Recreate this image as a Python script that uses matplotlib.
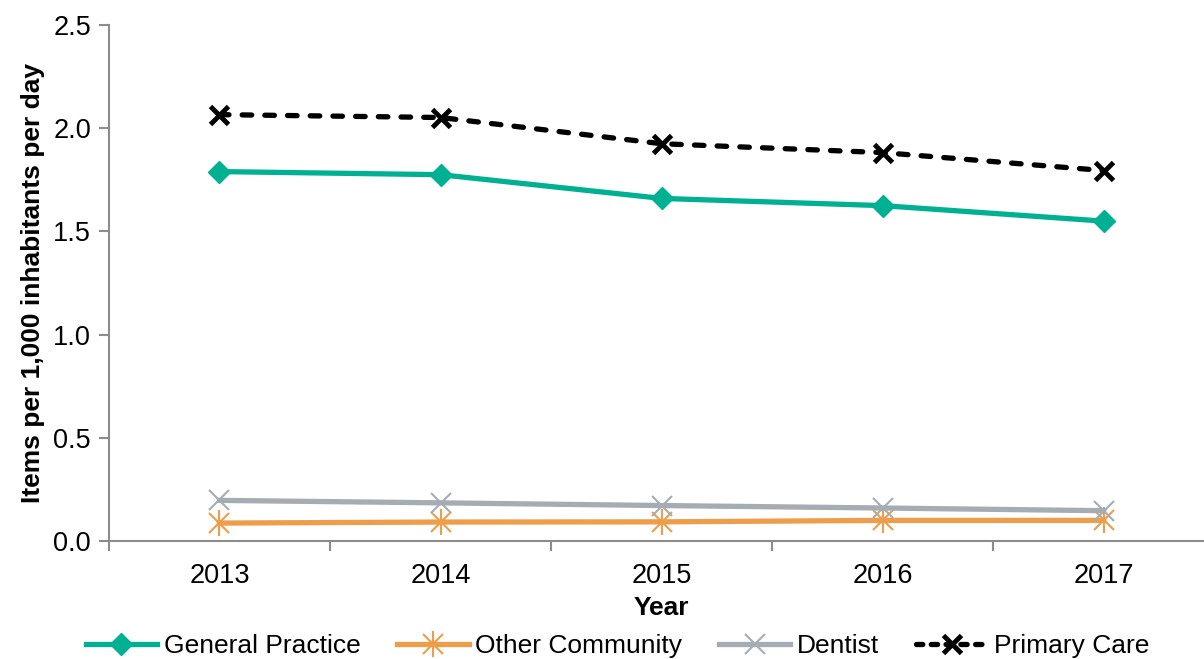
import numpy as np
import matplotlib
matplotlib.use("Agg")
import matplotlib.pyplot as plt
from matplotlib.lines import Line2D

plt.rcParams['font.family'] = ['Liberation Sans', 'DejaVu Sans']

years = ['2013', '2014', '2015', '2016', '2017']
general_practice = [1.79, 1.775, 1.66, 1.625, 1.55]
other_community = [0.087, 0.092, 0.093, 0.10, 0.10]
dentist = [0.197, 0.185, 0.172, 0.160, 0.147]
primary_care = [2.066, 2.052, 1.925, 1.882, 1.795]

teal = '#00B092'
orange = '#EE9E4A'
grey = '#A4ADB3'
axis_grey = '#8C8C8C'

fig = plt.figure(figsize=(12.04, 6.59), dpi=100)
ax = fig.add_axes([0.0905, 0.179, 0.918, 0.783])
x = np.arange(len(years))

ax.plot(x, general_practice, color=teal, lw=3.8, marker='D', ms=11,
        label='General Practice', solid_joinstyle='round')
ax.plot(x, other_community, color=orange, lw=3.8, marker='x', ms=14, mew=1.5,
        label='Other Community')
ax.plot(x, other_community, color=orange, lw=0, marker='|', ms=19, mew=1.5)
ax.plot(x, dentist, color=grey, lw=3.8, marker='x', ms=15, mew=1.5,
        label='Dentist')
ax.plot(x, primary_care, color='black', lw=3.8, ls=(0, (1.8, 2.5)),
        dash_capstyle='round', marker='x', ms=13, mew=3.5, label='Primary Care')

ax.set_xlim(-0.5, 4.5)
ax.set_ylim(0, 2.5)
ax.set_yticks([0, 0.5, 1.0, 1.5, 2.0, 2.5])
ax.set_yticklabels(['0.0', '0.5', '1.0', '1.5', '2.0', '2.5'])
ax.set_xticks(np.arange(-0.5, 4.0, 1.0))
ax.set_xticklabels([])
ax.set_xticks(x, minor=True)
ax.set_xticklabels(years, minor=True)
ax.tick_params(axis='x', which='minor', length=0, pad=16, labelsize=19.5)
ax.tick_params(axis='x', which='major', length=7, width=1.5, color=axis_grey)
ax.tick_params(axis='y', length=7, width=1.5, color=axis_grey, labelsize=19.5, pad=6)

for s in ['top', 'right']:
    ax.spines[s].set_visible(False)
for s in ['left', 'bottom']:
    ax.spines[s].set_color(axis_grey)
    ax.spines[s].set_linewidth(1.5)

ax.set_ylabel('Items per 1,000 inhabitants per day', fontsize=19, fontweight='bold', labelpad=6)
ax.set_xlabel('Year', fontsize=19, fontweight='bold', labelpad=5)

# legend handles: asterisk marker for Other Community is x + |
handles = [
    Line2D([], [], color=teal, lw=3.8, marker='D', ms=11),
    (Line2D([], [], color=orange, lw=3.8, marker='x', ms=14, mew=1.5),
     Line2D([], [], color=orange, lw=0, marker='|', ms=19, mew=1.5)),
    Line2D([], [], color=grey, lw=3.8, marker='x', ms=15, mew=1.5),
    Line2D([], [], color='black', lw=3.8, ls=(0, (1.2, 1.6)), dash_capstyle='round',
           marker='x', ms=13, mew=3.5),
]
labels = ['General Practice', 'Other Community', 'Dentist', 'Primary Care']
fig.legend(handles, labels, loc='lower center', bbox_to_anchor=(0.513, -0.035), ncol=4,
           frameon=False, fontsize=19, handlelength=2.7, handletextpad=0.25,
           columnspacing=1.4)

fig.savefig('out.png', dpi=100)
